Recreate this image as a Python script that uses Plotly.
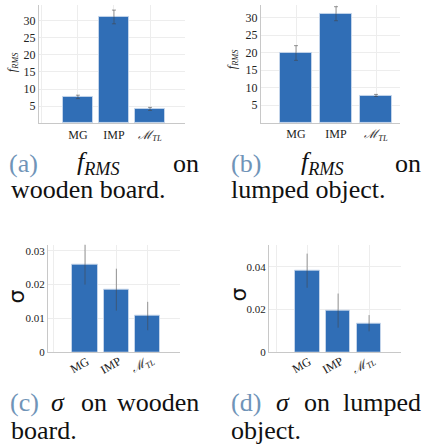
import plotly.graph_objects as go

# ---------------- data ----------------
categories = ["MG", "IMP", "ℳ_TL"]
cat_labels = ["MG", "IMP", "<i>ℳ</i><sub><i>TL</i></sub>"]

frms_wood = [7.7, 31.0, 4.2]
frms_wood_err = [0.5, 2.0, 0.45]
frms_lump = [19.9, 31.1, 7.8]
frms_lump_err = [2.1, 2.0, 0.3]

sigma_wood = [0.0260, 0.0185, 0.0107]
sigma_wood_err = [0.0060, 0.0062, 0.0042]
sigma_lump = [0.0382, 0.0195, 0.0136]
sigma_lump_err = [0.0080, 0.0080, 0.0038]

frms_ticks = [5, 10, 15, 20, 25, 30]
sigma_wood_ticks = [0, 0.01, 0.02, 0.03]
sigma_lump_ticks = [0, 0.02, 0.04]

# ---------------- layout helpers ----------------
W, H = 423, 448
def PX(x):
    return x / W
def PY(y):
    return 1 - y / H

BAR = "#306eb6"
SERIF = "Liberation Serif"
GRID = "#ededed"
AXL = "#c8c8c8"

fig = go.Figure()

xpos = list(range(len(categories)))
grid_x = [-1] + xpos + [len(categories)]

panels = [
    (frms_wood, frms_wood_err, "x", "y", (39, 185), (5, 125), [-1.08, 2.97], [0, 34.5], 0.83, 2, frms_ticks),
    (frms_lump, frms_lump_err, "x2", "y2", (261, 400), (5, 124.5), [-0.875, 2.6], [0, 33.6], 0.8, 2, frms_ticks),
    (sigma_wood, sigma_wood_err, "x3", "y3", (48, 180), (248, 357), [-1.18, 3.03], [0, 0.0318], 0.8, 0, sigma_wood_ticks),
    (sigma_lump, sigma_lump_err, "x4", "y4", (269, 401), (248, 357), [-1.23, 3.03], [0, 0.0504], 0.8, 0, sigma_lump_ticks),
]

for i, (vals, errs, xa, ya, xd, yd, xr, yr, bw, cap, yt) in enumerate(panels):
    fig.add_trace(go.Bar(
        x=xpos, y=vals, xaxis=xa, yaxis=ya, width=bw,
        marker=dict(color=BAR, line=dict(color="rgba(200,215,235,0.9)", width=1)),
        error_y=dict(type="data", array=errs, visible=True, color="rgba(70,70,70,0.55)",
                     thickness=1, width=cap),
        showlegend=False, hoverinfo="skip",
    ))
    xkey = "xaxis" if xa == "x" else "xaxis" + xa[1:]
    ykey = "yaxis" if ya == "y" else "yaxis" + ya[1:]
    rotated = i >= 2
    fig.update_layout(**{
        xkey: dict(domain=[PX(xd[0]), PX(xd[1])], range=xr, anchor=ya,
                   tickvals=xpos, ticktext=cat_labels, showticklabels=not rotated,
                   showgrid=True, gridcolor=GRID, gridwidth=1,
                   minor=dict(tickvals=grid_x, showgrid=True, gridcolor=GRID, gridwidth=1),
                   showline=True, linecolor=AXL, linewidth=1, zeroline=False,
                   tickfont=dict(family=SERIF, size=12, color="#222"), ticks="", fixedrange=True),
        ykey: dict(domain=[PY(yd[1]), PY(yd[0])], range=yr, anchor=xa,
                   tickvals=yt, showgrid=True, gridcolor=GRID, gridwidth=1,
                   showline=True, linecolor=AXL, linewidth=1, zeroline=False,
                   tickfont=dict(family=SERIF, size=12 if not rotated else 11, color="#222"),
                   ticks="", fixedrange=True),
    })
    if rotated:
        for k, lab in zip(xpos, cat_labels):
            fig.add_annotation(x=k, xref=xa, y=PY(370), yref="paper", text=lab,
                               textangle=-30, showarrow=False, xanchor="center", yanchor="middle",
                               xshift=-5, font=dict(family=SERIF, size=12, color="#222"))

# y-axis titles
def ytitle(text, x, y, font):
    fig.add_annotation(x=PX(x), y=PY(y), xref="paper", yref="paper", showarrow=False,
                       text=text, textangle=-90, xanchor="center", yanchor="middle", font=font)

ytitle("<i>f</i><sub><i>RMS</i></sub>", 13, 63, dict(family=SERIF, size=12, color="#222"))
ytitle("<i>f</i><sub><i>RMS</i></sub>", 233, 60, dict(family=SERIF, size=12, color="#222"))
ytitle("σ", 16.5, 301, dict(family="DejaVu Sans", size=22, color="#111"))
ytitle("σ", 238.5, 299, dict(family="DejaVu Sans", size=22, color="#111"))

# captions (justified words placed individually)
CAP = dict(family=SERIF, size=26, color="#111")
LAB = dict(family=SERIF, size=26, color="#7094b8")

def word(text, x, y, anchor="left", font=CAP):
    fig.add_annotation(x=PX(x), y=PY(y), xref="paper", yref="paper", showarrow=False,
                       text=text, xanchor=anchor, yanchor="middle", font=font, borderpad=0)

L1, L2, L3, L4 = 165.5, 192.5, 408, 436
word("(a)", 8, L1, font=LAB)
word("<i>f</i><sub><i>RMS</i></sub>", 76, L1)
word("on", 200, L1, "right")
word("wooden board.", 10, L2)
word("(b)", 230, L1, font=LAB)
word("<i>f</i><sub><i>RMS</i></sub>", 300, L1)
word("on", 422, L1, "right")
word("lumped object.", 230, L2)

word("(c)", 9, L3, font=LAB)
word("<i>σ</i>", 50, L3)
word("on", 80, L3)
word("wooden", 200, L3, "right")
word("board.", 10, L4)
word("(d)", 230, L3, font=LAB)
word("<i>σ</i>", 275, L3)
word("on", 303, L3)
word("lumped", 422, L3, "right")
word("object.", 230, L4)

fig.update_layout(width=W, height=H, margin=dict(l=0, r=0, t=0, b=0),
                  paper_bgcolor="white", plot_bgcolor="white", bargap=0)

fig.write_html("out.html", config={"displayModeBar": False},
               post_script="document.body.style.margin='0';document.body.style.overflow='hidden';")
